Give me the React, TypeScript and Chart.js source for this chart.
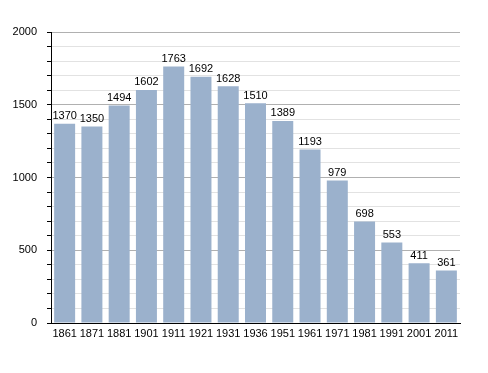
import React, { useEffect, useRef } from "react";
import { Chart, registerables } from "chart.js";

Chart.register(...registerables);

const years = ["1861", "1871", "1881", "1901", "1911", "1921", "1931", "1936", "1951", "1961", "1971", "1981", "1991", "2001", "2011"];
const population = [1370, 1350, 1494, 1602, 1763, 1692, 1628, 1510, 1389, 1193, 979, 698, 553, 411, 361];
const yMax = 2000;
const yStep = 100;
const majorStep = 500;

const FONT = "'Liberation Sans', Arial, sans-serif";

const valueLabels = {
  id: "valueLabels",
  afterDatasetsDraw(chart: any) {
    const ctx = chart.ctx;
    const meta = chart.getDatasetMeta(0);
    ctx.save();
    ctx.font = `11px ${FONT}`;
    ctx.fillStyle = "#000";
    ctx.textAlign = "center";
    ctx.textBaseline = "bottom";
    meta.data.forEach((bar: any, i: number) => {
      ctx.fillText(String(population[i]), bar.x, bar.y - 2);
    });
    ctx.restore();
  },
};

export default function App() {
  const ref = useRef<HTMLCanvasElement>(null);
  useEffect(() => {
    const chart = new Chart(ref.current!, {
      type: "bar",
      data: {
        labels: years,
        datasets: [
          {
            data: population,
            backgroundColor: "#9bb1cc",
            borderWidth: 0,
            barPercentage: 0.77,
            categoryPercentage: 1,
          },
        ],
      },
      options: {
        animation: false,
        responsive: false,
        devicePixelRatio: 1,
        layout: { padding: { top: 32, right: 28, left: 0, bottom: 30 } },
        plugins: { legend: { display: false }, tooltip: { enabled: false } },
        scales: {
          x: {
            grid: { drawOnChartArea: false, drawTicks: false },
            border: { display: true, color: "#000", width: 1 },
            ticks: { color: "#000", font: { family: FONT, size: 11 }, padding: 4, maxRotation: 0, autoSkip: false },
            afterFit: (s: any) => { s.height = 20; },
          },
          y: {
            min: 0,
            max: yMax,
            border: { display: true, color: "#000", width: 1 },
            grid: {
              color: (c: any) => (c.tick && c.tick.value % majorStep === 0 ? "#b0b0b0" : "#e2e2e2"),
              tickColor: "#000",
              tickLength: 4,
            },
            ticks: {
              stepSize: yStep,
              autoSkip: false,
              color: "#000",
              font: { family: FONT, size: 11 },
              padding: 10,
              callback: (v: any) => (Number(v) % majorStep === 0 ? String(v) : ""),
            },
            afterFit: (s: any) => { s.width = 51; },
          },
        },
      },
      plugins: [valueLabels],
    });
    return () => chart.destroy();
  }, []);
  return (
    <div style={{ position: "fixed", left: 0, top: 0, width: 488, height: 373, background: "#fff" }}>
      <canvas ref={ref} width={488} height={373} />
    </div>
  );
}
